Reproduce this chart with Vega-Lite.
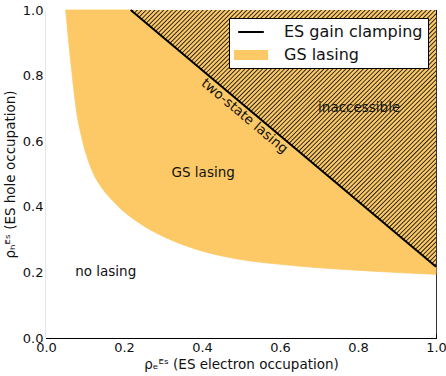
{
  "$schema": "https://vega.github.io/schema/vega-lite/v6.json",
  "width": 390,
  "height": 328,
  "autosize": {"type": "none"},
  "padding": {"left": 46, "top": 10, "right": 10, "bottom": 38},
  "config": {
    "font": "DejaVu Sans",
    "view": {"stroke": "#333", "strokeWidth": 1},
    "axis": {"grid": false, "domainColor": "#000", "domainWidth": 1.2, "tickColor": "#000", "tickSize": -4, "tickWidth": 1, "labelFont": "DejaVu Sans", "labelFontSize": 13, "labelColor": "#111", "labelFlush": false, "labelOverlap": false, "labelBound": false, "titleFont": "DejaVu Sans", "titleFontSize": 13.5, "titleFontWeight": "normal", "titleColor": "#111"},
    "legend": {"orient": "top-right", "offset": 8, "padding": 5, "fillColor": "#ffffff", "strokeColor": "#000000", "cornerRadius": 0, "labelFont": "DejaVu Sans", "labelFontSize": 16, "labelColor": "#111", "rowPadding": 6, "symbolSize": 256, "labelOffset": 32, "symbolType": "M-1,-0.5H3V0.5H-1Z"}
  },
  "layer": [
    {
      "data": {"values": [{"x": 0.217, "y": 1.0, "top": 1.0}, {"x": 1.0, "y": 0.217, "top": 1.0}]},
      "mark": {"type": "area", "color": "#fdc966", "opacity": 1},
      "encoding": {
        "x": {"field": "x", "type": "quantitative", "scale": {"domain": [0, 1], "nice": false, "zero": false},
              "axis": {"orient": "bottom", "values": [0, 0.2, 0.4, 0.6, 0.8, 1], "format": ".1f", "title": "ρₑᴱˢ  (ES electron occupation)", "labelPadding": 7, "titlePadding": 3}},
        "y": {"field": "y", "type": "quantitative", "scale": {"domain": [0, 1], "nice": false, "zero": false},
              "axis": {"orient": "left", "values": [0, 0.2, 0.4, 0.6, 0.8, 1], "format": ".1f", "title": "ρₕᴱˢ  (ES hole occupation)", "labelPadding": 7, "titlePadding": 5}},
        "y2": {"field": "top"}
      }
    },
    {
      "data": {"values": [{"x": 0.358, "y": 1.296}, {"x": 1.192, "y": 0.305}]},
      "mark": {"type": "line", "color": "#1a1a1a", "strokeWidth": 240, "strokeDash": [0.9, 2.2], "strokeCap": "butt", "clip": true},
      "encoding": {
        "x": {"field": "x", "type": "quantitative", "scale": {"domain": [0, 1], "nice": false, "zero": false},
              "axis": {"orient": "top", "values": [0, 0.2, 0.4, 0.6, 0.8, 1], "labels": false, "domain": false, "title": null}},
        "y": {"field": "y", "type": "quantitative", "scale": {"domain": [0, 1], "nice": false, "zero": false},
              "axis": {"orient": "right", "values": [0, 0.2, 0.4, 0.6, 0.8, 1], "labels": false, "domain": false, "title": null}}
      }
    },
    {
      "data": {"values": [{"x": 0, "y": 0, "top": 1.0}, {"x": 0.217, "y": 0, "top": 1.0}, {"x": 1.0, "y": 0, "top": 0.217}]},
      "mark": {"type": "area", "color": "#ffffff", "opacity": 1},
      "encoding": {
        "x": {"field": "x", "type": "quantitative", "axis": null},
        "y": {"field": "y", "type": "quantitative", "axis": null},
        "y2": {"field": "top"}
      }
    },
    {
      "data": {"values": [
        {"x": 0.0505, "lo": 1.0, "hi": 1.0, "seg": "a", "s": "GS lasing"},
        {"x": 0.058, "lo": 0.905, "hi": 1.0, "seg": "a", "s": "GS lasing"},
        {"x": 0.066, "lo": 0.815, "hi": 1.0, "seg": "a", "s": "GS lasing"},
        {"x": 0.073, "lo": 0.740, "hi": 1.0, "seg": "a", "s": "GS lasing"},
        {"x": 0.080, "lo": 0.678, "hi": 1.0, "seg": "a", "s": "GS lasing"},
        {"x": 0.088, "lo": 0.630, "hi": 1.0, "seg": "a", "s": "GS lasing"},
        {"x": 0.096, "lo": 0.590, "hi": 1.0, "seg": "a", "s": "GS lasing"},
        {"x": 0.104, "lo": 0.557, "hi": 1.0, "seg": "a", "s": "GS lasing"},
        {"x": 0.120, "lo": 0.505, "hi": 1.0, "seg": "a", "s": "GS lasing"},
        {"x": 0.143, "lo": 0.458, "hi": 1.0, "seg": "a", "s": "GS lasing"},
        {"x": 0.170, "lo": 0.420, "hi": 1.0, "seg": "a", "s": "GS lasing"},
        {"x": 0.198, "lo": 0.387, "hi": 1.0, "seg": "a", "s": "GS lasing"},
        {"x": 0.217, "lo": 0.369, "hi": 1.0, "seg": "a", "s": "GS lasing"},
        {"x": 0.217, "lo": 0.369, "hi": 1.0, "seg": "b", "s": "GS lasing"},
        {"x": 0.240, "lo": 0.350, "hi": 0.977, "seg": "b", "s": "GS lasing"},
        {"x": 0.267, "lo": 0.330, "hi": 0.950, "seg": "b", "s": "GS lasing"},
        {"x": 0.300, "lo": 0.310, "hi": 0.917, "seg": "b", "s": "GS lasing"},
        {"x": 0.330, "lo": 0.294, "hi": 0.887, "seg": "b", "s": "GS lasing"},
        {"x": 0.395, "lo": 0.267, "hi": 0.822, "seg": "b", "s": "GS lasing"},
        {"x": 0.460, "lo": 0.248, "hi": 0.757, "seg": "b", "s": "GS lasing"},
        {"x": 0.523, "lo": 0.235, "hi": 0.694, "seg": "b", "s": "GS lasing"},
        {"x": 0.590, "lo": 0.226, "hi": 0.627, "seg": "b", "s": "GS lasing"},
        {"x": 0.651, "lo": 0.219, "hi": 0.566, "seg": "b", "s": "GS lasing"},
        {"x": 0.750, "lo": 0.210, "hi": 0.467, "seg": "b", "s": "GS lasing"},
        {"x": 0.850, "lo": 0.203, "hi": 0.367, "seg": "b", "s": "GS lasing"},
        {"x": 0.930, "lo": 0.198, "hi": 0.287, "seg": "b", "s": "GS lasing"},
        {"x": 1.000, "lo": 0.194, "hi": 0.217, "seg": "b", "s": "GS lasing"}
      ]},
      "mark": {"type": "area", "interpolate": "monotone", "opacity": 1, "stroke": "#fdc966", "strokeWidth": 0.8},
      "encoding": {
        "x": {"field": "x", "type": "quantitative", "axis": null},
        "y": {"field": "lo", "type": "quantitative", "axis": null},
        "y2": {"field": "hi"},
        "detail": {"field": "seg"},
        "color": {"field": "s", "type": "nominal",
                  "scale": {"domain": ["ES gain clamping", "GS lasing"], "range": ["#000000", "#fdc966"]}}
      }
    },
    {
      "data": {"values": [{"x": 0.217, "y": 1.0, "s": "ES gain clamping"}, {"x": 1.0, "y": 0.217, "s": "ES gain clamping"}]},
      "mark": {"type": "line", "strokeWidth": 2},
      "encoding": {
        "x": {"field": "x", "type": "quantitative", "axis": null},
        "y": {"field": "y", "type": "quantitative", "axis": null},
        "color": {"field": "s", "type": "nominal",
                  "legend": {"title": null,
                             "encode": {"symbols": {"update": {
                               "shape": {"signal": "datum.value === 'ES gain clamping' ? 'M-0.6,0H2.6' : 'M-1,-0.5H3V0.5H-1Z'"},
                               "strokeWidth": {"value": 2},
                               "opacity": {"value": 1}
                             }}}}}
      }
    },
    {
      "data": {"values": [
        {"x": 0.153, "y": 0.201, "label": "no lasing"},
        {"x": 0.403, "y": 0.504, "label": "GS lasing"},
        {"x": 0.803, "y": 0.702, "label": "inaccessible"}
      ]},
      "mark": {"type": "text", "fontSize": 13.5, "font": "DejaVu Sans", "color": "#111", "align": "center", "baseline": "middle"},
      "encoding": {
        "x": {"field": "x", "type": "quantitative", "axis": null},
        "y": {"field": "y", "type": "quantitative", "axis": null},
        "text": {"field": "label"}
      }
    },
    {
      "data": {"values": [{"x": 0.509, "y": 0.676, "label": "two-state lasing"}]},
      "mark": {"type": "text", "fontSize": 13.5, "font": "DejaVu Sans", "color": "#111", "align": "center", "baseline": "middle", "angle": 40},
      "encoding": {
        "x": {"field": "x", "type": "quantitative", "axis": null},
        "y": {"field": "y", "type": "quantitative", "axis": null},
        "text": {"field": "label"}
      }
    }
  ],
  "resolve": {"axis": {"x": "independent", "y": "independent"}}
}
